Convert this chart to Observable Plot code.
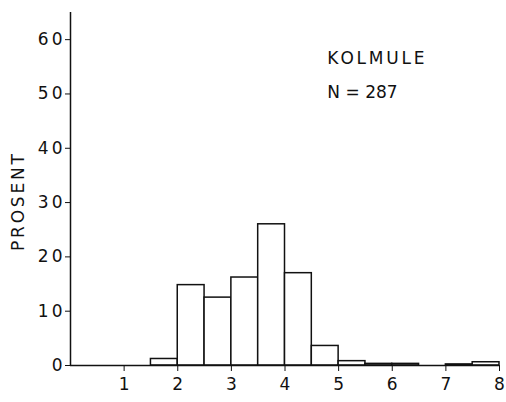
<!DOCTYPE html>
<html><head><meta charset="utf-8">
<script src="https://cdn.jsdelivr.net/npm/d3@7"></script>
<script src="https://cdn.jsdelivr.net/npm/@observablehq/plot@0.6"></script>
<style>
body{margin:0;background:#fff;}
</style>
</head><body><div id="chart"></div>
<script>
const binStart = [0,0.5,1,1.5,2,2.5,3,3.5,4,4.5,5,5.5,6,6.5,7,7.5];
const binWidth = 0.5;
const percent  = [0,0,0,1.2,14.8,12.5,16.2,26,17,3.6,0.8,0.3,0.3,0,0.2,0.6];
const xTicks = [1,2,3,4,5,6,7,8];
const yTicks = [0,10,20,30,40,50,60];
const yLabel = "PROSENT";
const labels = ["KOLMULE","N = 287"];

const bins = binStart.map((s,i)=>({x1:s, x2:s+binWidth, y:percent[i]}));

const chart = Plot.plot({
  width: 506, height: 402,
  marginLeft: 70, marginRight: 7, marginTop: 12, marginBottom: 37,
  style: {fontFamily: "'DejaVu Sans', sans-serif", fontSize: "16px", color: "#111", background: "#fff"},
  x: {domain: [0,8]},
  y: {domain: [0,65]},
  marks: [
    Plot.rectY(bins, {x1:"x1", x2:"x2", y:"y", fill:"white", stroke:"#111", strokeWidth:1.5}),
    Plot.ruleY([0], {stroke:"#111", strokeWidth:1.5}),
    Plot.ruleX([0], {stroke:"#111", strokeWidth:1.5}),
    Plot.axisY(yTicks, {tickSize:5, tickPadding:0, label:null, fontSize:17, stroke:"#111", className:"yax"}),
    Plot.axisX(xTicks, {tickSize:6, tickPadding:6, label:null, fontSize:17, stroke:"#111"}),
    Plot.text([yLabel], {frameAnchor:"left", dx:-52, dy:62, rotate:-90, fontSize:17, fill:"#111", className:"ylab"}),
    Plot.text([labels[0]], {x:4.79, y:55.6, textAnchor:"start", lineAnchor:"bottom", fontSize:17, fill:"#111", className:"kol"}),
    Plot.text([labels[1]], {x:4.79, y:49.2, textAnchor:"start", lineAnchor:"bottom", fontSize:17, fill:"#111"})
  ]
});
document.getElementById("chart").appendChild(chart);
d3.select(chart).selectAll(".yax text").attr("letter-spacing", "3px");
d3.select(chart).selectAll(".ylab text").attr("letter-spacing", "2.8px");
d3.select(chart).selectAll(".kol text").attr("letter-spacing", "2.8px");
</script></body></html>
